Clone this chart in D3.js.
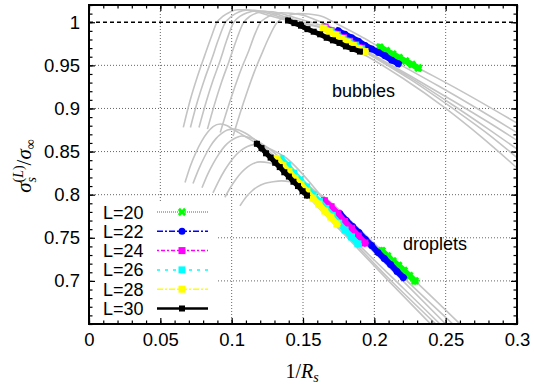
<!DOCTYPE html>
<html>
<head>
<meta charset="utf-8">
<script src="https://cdn.jsdelivr.net/npm/d3@7"></script>
<style>
  body { margin: 0; background: #fff; }
  text { font-family: "Liberation Sans", Arial, Helvetica, sans-serif; }
  .math { font-family: "Liberation Serif", "DejaVu Serif", serif; }
</style>
</head>
<body>
<svg id="chart" width="534" height="386"></svg>
<script>
// ---- tick labels / categories
const xTicks = [0, 0.05, 0.1, 0.15, 0.2, 0.25, 0.3];
const yTicks = [0.7, 0.75, 0.8, 0.85, 0.9, 0.95, 1];
const xTickLabels = ['0', '0.05', '0.1', '0.15', '0.2', '0.25', '0.3'];
const yTickLabels = ['0.7', '0.75', '0.8', '0.85', '0.9', '0.95', '1'];
const seriesNames = ['L=20', 'L=22', 'L=24', 'L=26', 'L=28', 'L=30'];

// ---- gray theory curves, bubbles
const bubCurve30x = [0.0661, 0.071, 0.076, 0.081, 0.0855, 0.0894, 0.094, 0.099, 0.104, 0.110, 0.118, 0.128, 0.1395, 0.152, 0.165, 0.19, 0.22, 0.25, 0.275, 0.3];
const bubCurve30y = [0.878, 0.910, 0.937, 0.961, 0.982, 0.999, 1.007, 1.012, 1.0145, 1.0145, 1.012, 1.007, 1.002, 0.993, 0.983, 0.965, 0.935, 0.900, 0.867, 0.831];
const bubCurve28x = [0.0711, 0.076, 0.081, 0.086, 0.0905, 0.0953, 0.100, 0.105, 0.110, 0.116, 0.124, 0.134, 0.148, 0.1642, 0.1934, 0.225, 0.255, 0.28, 0.3];
const bubCurve28y = [0.878, 0.908, 0.934, 0.957, 0.979, 0.999, 1.007, 1.012, 1.014, 1.0138, 1.011, 1.006, 0.999, 0.993, 0.9655, 0.934, 0.900, 0.870, 0.843];
const bubCurve26x = [0.0771, 0.082, 0.087, 0.092, 0.0965, 0.1011, 0.106, 0.111, 0.116, 0.122, 0.130, 0.140, 0.152, 0.1655, 0.193, 0.225, 0.255, 0.28, 0.3];
const bubCurve26y = [0.878, 0.907, 0.933, 0.956, 0.979, 0.999, 1.007, 1.011, 1.013, 1.013, 1.010, 1.005, 0.999, 0.9925, 0.967, 0.936, 0.904, 0.876, 0.853];
const bubCurve24x = [0.083, 0.088, 0.093, 0.098, 0.103, 0.1081, 0.113, 0.118, 0.123, 0.129, 0.137, 0.147, 0.1655, 0.1935, 0.225, 0.255, 0.28, 0.3];
const bubCurve24y = [0.876, 0.905, 0.931, 0.954, 0.978, 0.999, 1.007, 1.011, 1.0125, 1.012, 1.009, 1.004, 0.9945, 0.9675, 0.938, 0.909, 0.884, 0.863];
const bubCurve22x = [0.092, 0.097, 0.102, 0.107, 0.112, 0.116, 0.1199, 0.125, 0.130, 0.135, 0.142, 0.150, 0.160, 0.1747, 0.2168, 0.245, 0.27, 0.3];
const bubCurve22y = [0.872, 0.899, 0.924, 0.947, 0.967, 0.985, 0.999, 1.006, 1.010, 1.011, 1.0105, 1.008, 1.002, 0.990, 0.952, 0.926, 0.902, 0.872];
const bubCurve20x = [0.101, 0.106, 0.111, 0.116, 0.121, 0.126, 0.1315, 0.137, 0.142, 0.147, 0.154, 0.163, 0.175, 0.19, 0.2039, 0.2308, 0.26, 0.3];
const bubCurve20y = [0.868, 0.895, 0.920, 0.943, 0.963, 0.982, 0.999, 1.006, 1.009, 1.010, 1.0095, 1.007, 0.997, 0.984, 0.971, 0.947, 0.921, 0.883];

// ---- gray theory curves, droplets
const dropCurve30x = [0.0673, 0.071, 0.075, 0.079, 0.083, 0.087, 0.092, 0.097, 0.1002, 0.105, 0.111, 0.1177, 0.1528, 0.18, 0.21, 0.2395];
const dropCurve30y = [0.814, 0.833, 0.849, 0.862, 0.872, 0.879, 0.882, 0.880, 0.8765, 0.872, 0.866, 0.859, 0.799, 0.752, 0.700, 0.650];
const dropCurve28x = [0.0729, 0.077, 0.081, 0.085, 0.089, 0.093, 0.097, 0.101, 0.105, 0.110, 0.117, 0.1317, 0.1737, 0.21, 0.243];
const dropCurve28y = [0.813, 0.830, 0.844, 0.856, 0.865, 0.871, 0.875, 0.876, 0.875, 0.871, 0.863, 0.842, 0.766, 0.703, 0.650];
const dropCurve26x = [0.0792, 0.083, 0.087, 0.091, 0.095, 0.099, 0.103, 0.107, 0.111, 0.116, 0.124, 0.1345, 0.1885, 0.22, 0.246];
const dropCurve26y = [0.808, 0.823, 0.836, 0.847, 0.856, 0.862, 0.866, 0.868, 0.867, 0.864, 0.856, 0.842, 0.743, 0.692, 0.650];
const dropCurve24x = [0.0869, 0.091, 0.095, 0.099, 0.103, 0.107, 0.111, 0.116, 0.121, 0.127, 0.137, 0.1668, 0.1934, 0.22, 0.25];
const dropCurve24y = [0.802, 0.816, 0.828, 0.838, 0.846, 0.852, 0.856, 0.858, 0.857, 0.853, 0.844, 0.791, 0.744, 0.700, 0.650];
const dropCurve22x = [0.0953, 0.099, 0.103, 0.107, 0.111, 0.115, 0.120, 0.126, 0.133, 0.142, 0.152, 0.1759, 0.2203, 0.255];
const dropCurve22y = [0.797, 0.808, 0.818, 0.826, 0.832, 0.836, 0.838, 0.837, 0.833, 0.825, 0.813, 0.778, 0.704, 0.650];
const dropCurve20x = [0.1058, 0.110, 0.114, 0.118, 0.123, 0.129, 0.135, 0.141, 0.148, 0.156, 0.165, 0.185, 0.2053, 0.2285, 0.26];
const dropCurve20y = [0.787, 0.797, 0.804, 0.809, 0.813, 0.815, 0.816, 0.815, 0.812, 0.806, 0.797, 0.767, 0.735, 0.700, 0.650];

// ---- simulation points, bubbles
const bub30x = [0.1395, 0.1440, 0.1486, 0.1531, 0.1575, 0.1620, 0.1666, 0.1710, 0.1756, 0.1801, 0.1848, 0.1899];
const bub30y = [1.002, 0.999, 0.996, 0.992, 0.989, 0.986, 0.982, 0.979, 0.976, 0.972, 0.969, 0.966];
const bub28x = [0.1642, 0.1684, 0.1727, 0.1768, 0.1810, 0.1852, 0.1893, 0.1934];
const bub28y = [0.993, 0.989, 0.985, 0.981, 0.977, 0.973, 0.969, 0.966];
const bub26x = [0.1652, 0.1695, 0.1738, 0.1780, 0.1823, 0.1866, 0.1908];
const bub26y = [0.993, 0.989, 0.985, 0.981, 0.977, 0.973, 0.969];
const bub24x = [0.1655, 0.1698, 0.1741, 0.1784, 0.1827, 0.1870, 0.1912];
const bub24y = [0.9945, 0.990, 0.986, 0.982, 0.978, 0.974, 0.970];
const bub22x = [0.1747, 0.1794, 0.1841, 0.1888, 0.1935, 0.1982, 0.2029, 0.2075, 0.2122, 0.2168];
const bub22y = [0.990, 0.986, 0.982, 0.978, 0.973, 0.969, 0.965, 0.961, 0.956, 0.952];
const bub20x = [0.2039, 0.2084, 0.2129, 0.2174, 0.2219, 0.2264, 0.2308];
const bub20y = [0.971, 0.967, 0.963, 0.959, 0.955, 0.951, 0.947];

// ---- simulation points, droplets
const drop30x = [0.1177, 0.1209, 0.1241, 0.1273, 0.1305, 0.1337, 0.1369, 0.1401, 0.1433, 0.1465, 0.1497, 0.1528];
const drop30y = [0.859, 0.854, 0.848, 0.843, 0.837, 0.832, 0.826, 0.821, 0.815, 0.810, 0.804, 0.799];
const drop28x = [0.1317, 0.1359, 0.1401, 0.1443, 0.1485, 0.1527, 0.1569, 0.1611, 0.1653, 0.1695, 0.1737];
const drop28y = [0.842, 0.834, 0.827, 0.819, 0.812, 0.804, 0.796, 0.789, 0.781, 0.774, 0.766];
const drop26x = [0.1345, 0.1390, 0.1435, 0.1480, 0.1525, 0.1570, 0.1615, 0.1660, 0.1705, 0.1750, 0.1795, 0.1840, 0.1885];
const drop26y = [0.842, 0.834, 0.825, 0.817, 0.809, 0.800, 0.792, 0.784, 0.776, 0.767, 0.759, 0.751, 0.743];
const drop24x = [0.1650, 0.1697, 0.1744, 0.1792, 0.1840, 0.1887, 0.1934];
const drop24y = [0.793, 0.786, 0.778, 0.769, 0.761, 0.752, 0.744];
const drop22x = [0.1759, 0.1803, 0.1848, 0.1892, 0.1937, 0.1981, 0.2026, 0.2070, 0.2114, 0.2159, 0.2203];
const drop22y = [0.778, 0.770, 0.763, 0.756, 0.748, 0.741, 0.733, 0.726, 0.719, 0.711, 0.704];
const drop20x = [0.2053, 0.2092, 0.2130, 0.2169, 0.2208, 0.2246, 0.2285];
const drop20y = [0.735, 0.729, 0.723, 0.718, 0.712, 0.706, 0.700];

const zip = (xs, ys) => xs.map((v, i) => [v, ys[i]]);

const grayCurves = [
  zip(bubCurve20x, bubCurve20y), zip(bubCurve22x, bubCurve22y), zip(bubCurve24x, bubCurve24y),
  zip(bubCurve26x, bubCurve26y), zip(bubCurve28x, bubCurve28y), zip(bubCurve30x, bubCurve30y),
  zip(dropCurve20x, dropCurve20y), zip(dropCurve22x, dropCurve22y), zip(dropCurve24x, dropCurve24y),
  zip(dropCurve26x, dropCurve26y), zip(dropCurve28x, dropCurve28y), zip(dropCurve30x, dropCurve30y)
];

const series = [
  {name: seriesNames[0], color: '#00ff00', marker: 'x', size: 7, dash: '1,1', width: 1.5,
   segs: [zip(bub20x, bub20y), zip(drop20x, drop20y)]},
  {name: seriesNames[1], color: '#0000ff', marker: 'circle', size: 7, dash: '6,2,2,2', width: 1.5,
   segs: [zip(bub22x, bub22y), zip(drop22x, drop22y)]},
  {name: seriesNames[2], color: '#ff00ff', marker: 'square', size: 7, dash: '2,2,4,2', width: 1.5,
   segs: [zip(bub24x, bub24y), zip(drop24x, drop24y)]},
  {name: seriesNames[3], color: '#00ffff', marker: 'square', size: 7, dash: '3,5', width: 1.5,
   segs: [zip(bub26x, bub26y), zip(drop26x, drop26y)]},
  {name: seriesNames[4], color: '#ffff00', marker: 'square', size: 7, dash: '6,2,2,2', width: 1.5,
   segs: [zip(bub28x, bub28y), zip(drop28x, drop28y)]},
  {name: seriesNames[5], color: '#000000', marker: 'square', size: 6, dash: null, width: 2.5,
   segs: [zip(bub30x, bub30y), zip(drop30x, drop30y)]}
];

const svg = d3.select('#chart');
const mLeft = 89, mRight = 517, mTop = 5, mBottom = 324;

const x = d3.scaleLinear().domain([0, 0.3]).range([mLeft, mRight]);
const y = d3.scaleLinear().domain([0.65, 1.02]).range([mBottom, mTop]);

const xMinor = d3.range(0, 0.3001, 0.01);
const yMinor = d3.range(0.65, 1.0201, 0.01);

// grid
const grid = svg.append('g');
grid.selectAll('.gx').data(xTicks.slice(1, -1)).enter().append('line')
  .attr('x1', d => x(d)).attr('x2', d => x(d))
  .attr('y1', mTop).attr('y2', mBottom)
  .attr('stroke', '#666').attr('stroke-width', 1).attr('stroke-dasharray', '1,2');
grid.selectAll('.gy').data(yTicks.slice(0, -1)).enter().append('line')
  .attr('x1', mLeft).attr('x2', mRight)
  .attr('y1', d => y(d)).attr('y2', d => y(d))
  .attr('stroke', '#666').attr('stroke-width', 1).attr('stroke-dasharray', '1,2');

// gray curves
const line = d3.line().x(d => x(d[0])).y(d => y(d[1])).curve(d3.curveMonotoneX);
svg.append('g').selectAll('path').data(grayCurves).enter().append('path')
  .attr('d', line)
  .attr('fill', 'none')
  .attr('stroke', '#c4c4c4')
  .attr('stroke-width', 1.6);

// reference line sigma = 1
svg.append('line')
  .attr('x1', x(0)).attr('x2', x(0.3))
  .attr('y1', y(1)).attr('y2', y(1))
  .attr('stroke', '#000').attr('stroke-width', 1.4).attr('stroke-dasharray', '4,3');

function drawMarker(g, s, px, py) {
  if (s.marker === 'square') {
    g.append('rect')
      .attr('x', px - s.size / 2).attr('y', py - s.size / 2)
      .attr('width', s.size).attr('height', s.size)
      .attr('fill', s.color);
  } else if (s.marker === 'circle') {
    g.append('circle').attr('cx', px).attr('cy', py).attr('r', s.size / 2).attr('fill', s.color);
  } else {
    g.append('path')
      .attr('d', d3.symbol().type(d3.symbolCross).size(s.size * s.size * 0.9)())
      .attr('transform', 'translate(' + px + ',' + py + ') rotate(45)')
      .attr('fill', s.color);
  }
}

const straight = d3.line().x(d => x(d[0])).y(d => y(d[1]));

// simulation data: points are packed so densely that they merge into a band
series.forEach(s => {
  const g = svg.append('g');
  s.segs.forEach(seg => {
    g.append('path')
      .attr('d', straight(seg))
      .attr('fill', 'none')
      .attr('stroke', s.color)
      .attr('stroke-width', s.size - 1)
      .attr('stroke-linecap', 'square');
    seg.forEach(p => drawMarker(g, s, x(p[0]), y(p[1])));
  });
});

// legend
const leg = svg.append('g');
leg.append('rect').attr('x', mLeft + 1).attr('y', 203).attr('width', 128).attr('height', mBottom - 204).attr('fill', '#fff');
series.forEach((s, i) => {
  const ly = 212 + i * 19.3;
  leg.append('text').attr('x', 103).attr('y', ly + 6.5).attr('font-size', 18).text(s.name);
  leg.append('line').attr('x1', 157).attr('x2', 208).attr('y1', ly).attr('y2', ly)
    .attr('stroke', s.color).attr('stroke-width', s.width).attr('stroke-dasharray', s.dash);
  drawMarker(leg, s, 182, ly);
});

// axes (inward ticks, mirrored)
function styleAxis(g) {
  g.select('.domain').remove();
  g.selectAll('line').attr('stroke', '#000').attr('stroke-width', 1.2);
  g.selectAll('text').attr('font-size', 18.5).attr('fill', '#000')
    .attr('font-family', '"Liberation Sans", Arial, Helvetica, sans-serif');
}
svg.append('g').attr('transform', 'translate(0,' + mBottom + ')')
  .call(d3.axisBottom(x).tickValues(xTicks).tickSize(-6).tickPadding(9)
    .tickFormat((d, i) => xTickLabels[i])).call(styleAxis);
svg.append('g').attr('transform', 'translate(0,' + mBottom + ')')
  .call(d3.axisBottom(x).tickValues(xMinor).tickSize(-3.5).tickFormat('')).call(styleAxis);
svg.append('g').attr('transform', 'translate(0,' + mTop + ')')
  .call(d3.axisTop(x).tickValues(xTicks).tickSize(-6).tickFormat('')).call(styleAxis);
svg.append('g').attr('transform', 'translate(0,' + mTop + ')')
  .call(d3.axisTop(x).tickValues(xMinor).tickSize(-3.5).tickFormat('')).call(styleAxis);

svg.append('g').attr('transform', 'translate(' + mLeft + ',0)')
  .call(d3.axisLeft(y).tickValues(yTicks).tickSize(-6).tickPadding(9)
    .tickFormat((d, i) => yTickLabels[i])).call(styleAxis);
svg.append('g').attr('transform', 'translate(' + mLeft + ',0)')
  .call(d3.axisLeft(y).tickValues(yMinor).tickSize(-3.5).tickFormat('')).call(styleAxis);
svg.append('g').attr('transform', 'translate(' + mRight + ',0)')
  .call(d3.axisRight(y).tickValues(yTicks).tickSize(-6).tickFormat('')).call(styleAxis);
svg.append('g').attr('transform', 'translate(' + mRight + ',0)')
  .call(d3.axisRight(y).tickValues(yMinor).tickSize(-3.5).tickFormat('')).call(styleAxis);

// frame
svg.append('rect').attr('x', mLeft).attr('y', mTop).attr('width', mRight - mLeft).attr('height', mBottom - mTop)
  .attr('fill', 'none').attr('stroke', '#000').attr('stroke-width', 2);

// annotations
svg.append('text').attr('x', 332).attr('y', 96.5).attr('font-size', 18).text('bubbles');
svg.append('text').attr('x', 403).attr('y', 250).attr('font-size', 18).text('droplets');

// axis titles
const xt = svg.append('text').attr('class', 'math').attr('x', 302).attr('y', 378)
  .attr('text-anchor', 'middle').attr('font-size', 20);
xt.append('tspan').text('1/');
xt.append('tspan').attr('font-style', 'italic').text('R');
xt.append('tspan').attr('font-style', 'italic').attr('font-size', 14).attr('dy', 4).text('s');

const yt = svg.append('text').attr('class', 'math')
  .attr('transform', 'translate(31,166) rotate(-90)')
  .attr('text-anchor', 'middle').attr('font-size', 21);
yt.append('tspan').attr('font-style', 'italic').text('σ');
yt.append('tspan').attr('font-style', 'italic').attr('font-size', 14).attr('dy', 5).text('s');
yt.append('tspan').attr('font-size', 14).attr('dx', -5.5).attr('dy', -13).text('(');
yt.append('tspan').attr('font-style', 'italic').attr('font-size', 14).text('L');
yt.append('tspan').attr('font-size', 14).text(')');
yt.append('tspan').attr('dy', 8).text('/');
yt.append('tspan').attr('font-style', 'italic').text('σ');
yt.append('tspan').attr('font-size', 14).attr('dy', 4).text('∞');
</script>
</body>
</html>
